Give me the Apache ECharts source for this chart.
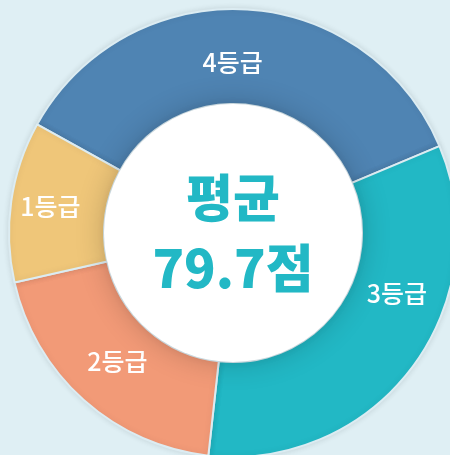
<!DOCTYPE html>
<html>
<head>
<meta charset="utf-8">
<script src="https://cdn.jsdelivr.net/npm/echarts@6/dist/echarts.min.js"></script>
<style>
html,body{margin:0;padding:0;background:#dfeff4;}
#c{width:450px;height:455px;}
</style>
</head>
<body>
<div id="c"></div>
<script>
// Data (clockwise order starting from upper-left)
const categories = ['4등급', '3등급', '2등급', '1등급'];
const shares = [35.6, 33.1, 19.7, 11.6];
const colors = ['#4f84b3', '#22b8c5', '#f29a77', '#efc679'];
const centerTitle = '평균';
const centerValue = '79.7점';

const chart = echarts.init(document.getElementById('c'), null, {renderer: 'canvas'});
const font = '"Noto Sans CJK KR", "Noto Sans", sans-serif';

const ringData = categories.map((name, i) => ({
  name: name,
  value: shares[i],
  itemStyle: {color: colors[i]}
}));

// small label nudges (styling only)
const labelNudge = [[-10, 9], [20, -47], [4, -5], [-5, -1]];

chart.setOption({
  backgroundColor: '#dfeff4',
  animation: false,
  series: [
    {
      type: 'pie',
      center: [233, 233],
      radius: [129, 224],
      startAngle: 151,
      clockwise: true,
      silent: true,
      avoidLabelOverlap: false,
      itemStyle: {
        borderColor: '#dcecf2',
        borderWidth: 2,
        shadowBlur: 6,
        shadowColor: 'rgba(0,0,0,0.10)'
      },
      label: {
        show: true,
        position: 'inside',
        color: '#ffffff',
        fontFamily: font,
        fontSize: 25,
        fontWeight: 500,
        formatter: '{b}'
      },
      labelLine: {show: false},
      labelLayout: function (p) {
        const n = labelNudge[p.dataIndex];
        return {dx: n[0], dy: n[1]};
      },
      data: ringData
    },
    {
      type: 'pie',
      center: [233, 233],
      radius: [0, 129],
      silent: true,
      z: 5,
      itemStyle: {
        color: '#ffffff',
        shadowBlur: 30,
        shadowColor: 'rgba(0,0,0,0.2)'
      },
      label: {
        show: true,
        position: 'center',
        formatter: '{a|' + centerTitle + '}\n{b|' + centerValue + '}',
        rich: {
          a: {
            color: '#22b8c5',
            fontFamily: font,
            fontSize: 51,
            fontWeight: 900,
            lineHeight: 71
          },
          b: {
            color: '#22b8c5',
            fontFamily: font,
            fontSize: 52,
            fontWeight: 900,
            lineHeight: 71
          }
        }
      },
      labelLine: {show: false},
      data: [{name: 'center', value: 1}]
    }
  ]
});
</script>
</body>
</html>
